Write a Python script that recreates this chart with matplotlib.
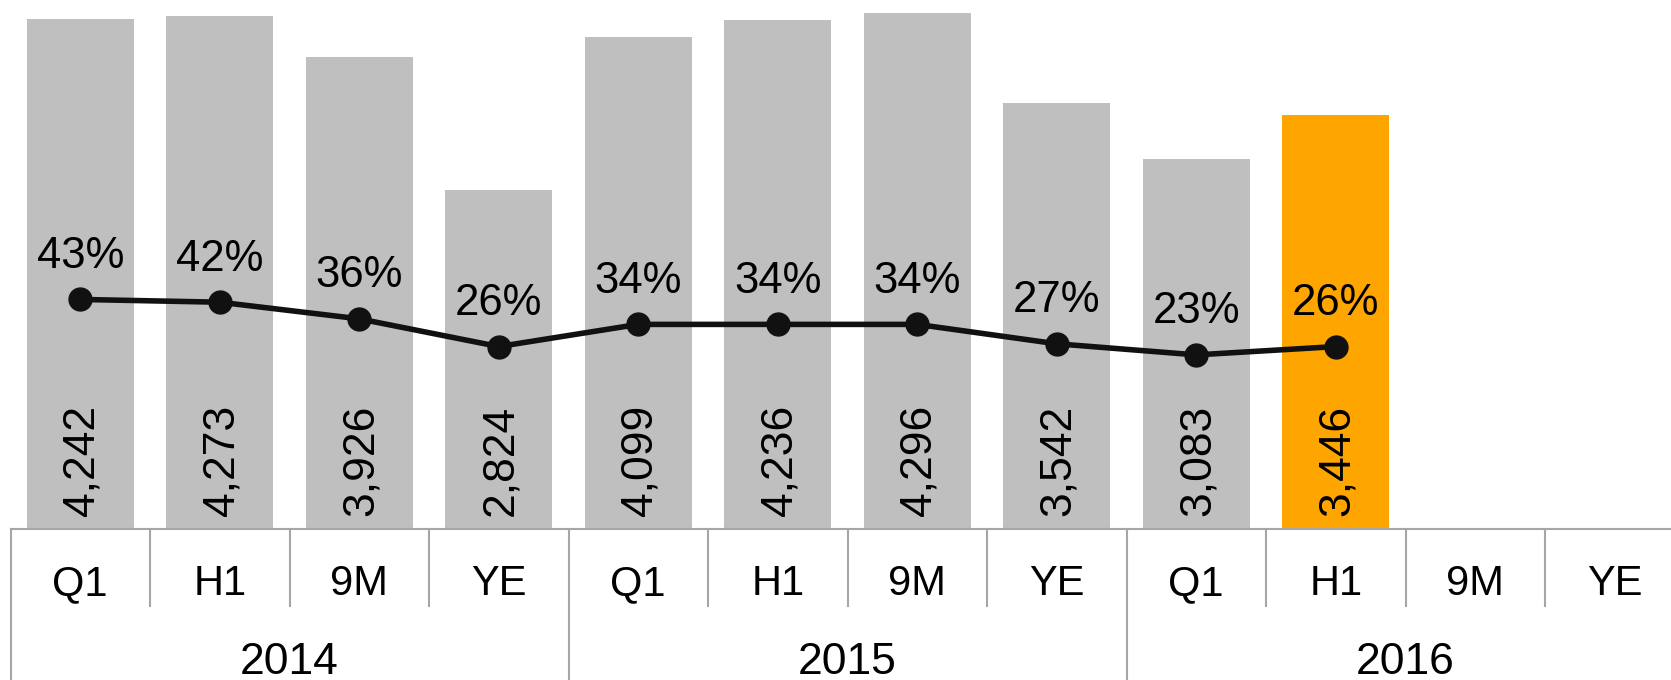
import matplotlib
matplotlib.use("Agg")
import matplotlib.pyplot as plt
from matplotlib.lines import Line2D

plt.rcParams['font.family'] = ['Liberation Sans', 'DejaVu Sans']

# data
periods = ['Q1', 'H1', '9M', 'YE'] * 3
years = ['2014', '2015', '2016']
values = [4242, 4273, 3926, 2824, 4099, 4236, 4296, 3542, 3083, 3446]
ratios = [43, 42, 36, 26, 34, 34, 34, 27, 23, 26]
highlight = 9  # H1 2016

W, H = 1671, 680
fig = plt.figure(figsize=(W / 100, H / 100), dpi=100)
slot = 139.5
base_px = 529
ax = fig.add_axes([10.5 / W, (H - base_px) / H, 12 * slot / W, base_px / H])

x = list(range(len(values)))
colors = ['#BFBFBF'] * len(values)
colors[highlight] = '#FFA500'
ax.bar(x, values, width=0.765, color=colors, zorder=1)
ax.set_xlim(-0.5, 11.5)
ax.set_ylim(0, 4403)

for i, v in enumerate(values):
    ax.annotate(f'{v:,}', (i, 0), xytext=(2, 13), textcoords='offset pixels',
                rotation=90, ha='center', va='bottom', fontsize=32,
                color='black', zorder=3)

for s in ['top', 'right', 'left']:
    ax.spines[s].set_visible(False)
ax.spines['bottom'].set_color('#A6A6A6')
ax.spines['bottom'].set_linewidth(1.5)
ax.set_xticks([])
ax.set_yticks([])

# category grid below the axis
trans = ax.get_xaxis_transform()
short_y = (base_px - 606) / base_px
bottom_y = -(H - base_px) / base_px
for k in range(13):
    y_end = bottom_y if k % 4 == 0 else short_y
    ax.add_line(Line2D([k - 0.5, k - 0.5], [0, y_end], transform=trans,
                       color='#A6A6A6', lw=1.5, clip_on=False))
for i, p in enumerate(periods):
    ax.text(i, (base_px - 584) / base_px, p, transform=trans, ha='center',
            va='center', fontsize=30)
for j, yr in enumerate(years):
    ax.text(4 * j + 1.5, (base_px - 662) / base_px, yr, transform=trans,
            ha='center', va='center', fontsize=32)

# ratio line on a secondary scale
ax2 = ax.twinx()
ax2.set_ylim(-39.8, 151)
ax2.plot(x, ratios, color='#111111', lw=4, marker='o', markersize=16.5,
         solid_joinstyle='round', zorder=4)
for i, r in enumerate(ratios):
    ax2.annotate(f'{r}%', (i, r), xytext=(0, 43), textcoords='offset pixels',
                 ha='center', va='center', fontsize=31.5)
ax2.axis('off')

fig.savefig('out.png', dpi=100)
